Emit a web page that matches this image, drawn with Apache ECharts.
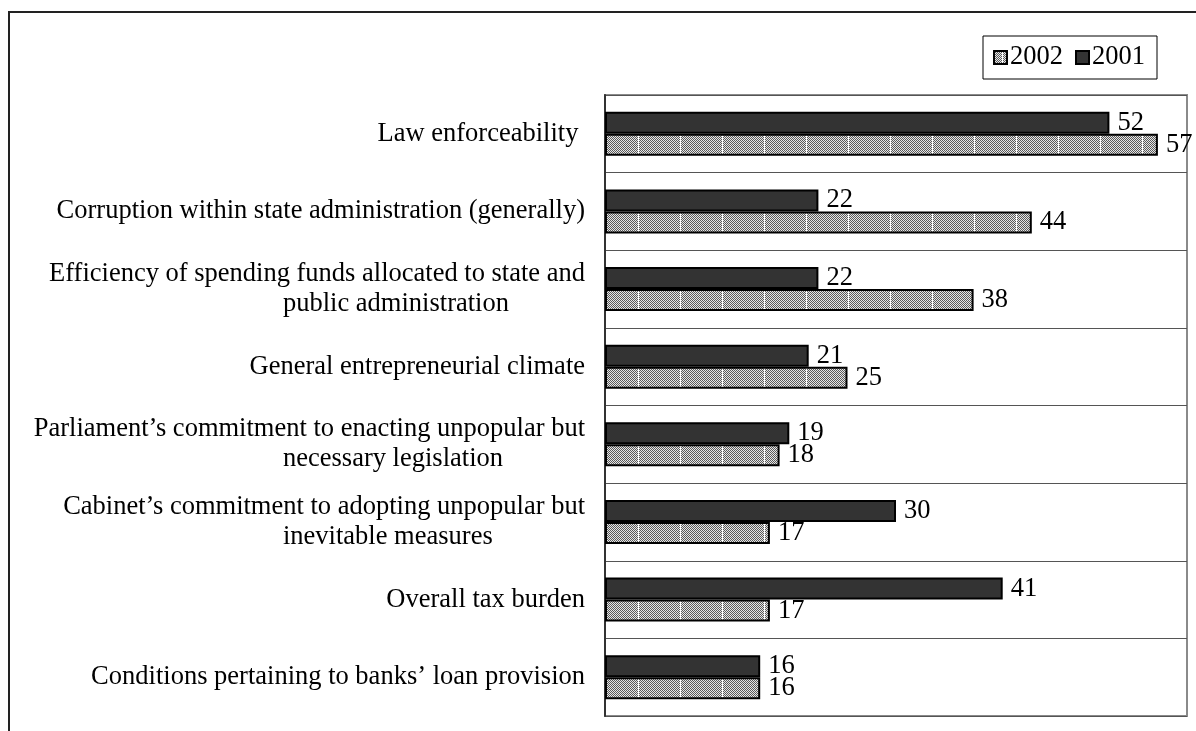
<!DOCTYPE html>
<html>
<head>
<meta charset="utf-8">
<title>Business environment barriers</title>
<script src="https://cdn.jsdelivr.net/npm/echarts@6/dist/echarts.min.js"></script>
<style>
  html, body { margin: 0; padding: 0; background: #ffffff; }
  #chart { width: 1196px; height: 731px; }
</style>
</head>
<body>
<div id="chart"></div>
<script>
// Categories, listed top to bottom
const categories = [
  'Law enforceability ',
  'Corruption within state administration (generally)',
  'Efficiency of spending funds allocated to state and\npublic administration',
  'General entrepreneurial climate',
  'Parliament\u2019s commitment to enacting unpopular but\nnecessary legislation',
  'Cabinet\u2019s commitment to adopting unpopular but\ninevitable measures',
  'Overall tax burden',
  'Conditions pertaining to banks\u2019 loan provision'
];
const values2001 = [52, 22, 22, 21, 19, 30, 41, 16];
const values2002 = [57, 44, 38, 25, 18, 17, 17, 16];
const legendOrder = ['2002', '2001'];

const FONT = '"Liberation Serif", "Times New Roman", serif';
const FS = 26.5;

const GRID_LEFT = 605;
const LABEL_MARGIN = 20;
const WRAP_LINE_X = 283;   // where continuation lines of wrapped labels begin

// Dotted grey fill with a thin white stripe, used for the 2002 bars
function makeHatch() {
  const w = 42, h = 4;
  const c = document.createElement('canvas');
  c.width = w; c.height = h;
  const ctx = c.getContext('2d');
  for (let y = 0; y < h; y++) {
    for (let x = 0; x < w; x++) {
      ctx.fillStyle = ((x + y) % 2 === 0) ? '#5a5a5a' : '#e6e6e6';
      ctx.fillRect(x, y, 1, 1);
    }
  }
  ctx.fillStyle = '#ffffff';
  ctx.fillRect(8, 0, 1, h);
  return c;
}
const hatch = { image: makeHatch(), repeat: 'repeat' };

// Text measurement for laying out wrapped category labels
const measureCtx = document.createElement('canvas').getContext('2d');
measureCtx.font = FS + 'px ' + FONT;
function textWidth(s) { return measureCtx.measureText(s).width; }

// Each wrapped label gets its own rich style so its second line starts at WRAP_LINE_X
const richStyles = {
  a: { fontFamily: FONT, fontSize: FS, lineHeight: 30, color: '#000' }
};
const labelRight = GRID_LEFT - LABEL_MARGIN;
categories.forEach(function (cat, i) {
  const parts = cat.split('\n');
  if (parts.length > 1) {
    const blockLeft = labelRight - textWidth(parts[0]);
    richStyles['b' + i] = {
      fontFamily: FONT, fontSize: FS, lineHeight: 30, color: '#000',
      align: 'left',
      padding: [0, 0, 0, Math.max(0, WRAP_LINE_X - blockLeft)]
    };
  }
});

function formatCategory(value, index) {
  const parts = value.split('\n');
  if (parts.length === 1) return '{a|' + value + '}';
  return '{a|' + parts[0] + '}\n{b' + index + '|' + parts[1] + '}';
}

const chart = echarts.init(document.getElementById('chart'), null, { renderer: 'canvas' });

const labelStyle = {
  show: true,
  position: 'right',
  distance: 8,
  color: '#000',
  fontFamily: FONT,
  fontSize: FS
};

chart.setOption({
  animation: false,
  backgroundColor: '#ffffff',
  graphic: [
    {
      type: 'rect',
      shape: { x: 9, y: 12, width: 1400, height: 1000 },
      style: { fill: 'none', stroke: '#222', lineWidth: 2 },
      silent: true
    }
  ],
  legend: {
    data: legendOrder,
    left: 983,
    top: 36,
    orient: 'horizontal',
    icon: 'rect',
    itemWidth: 13,
    itemHeight: 13,
    itemGap: 12,
    padding: [6, 12, 6, 10],
    borderColor: '#000',
    borderWidth: 1,
    textStyle: { fontFamily: FONT, fontSize: FS, lineHeight: 31, color: '#000', padding: [0, 0, 0, -2] }
  },
  grid: {
    left: GRID_LEFT,
    top: 95,
    width: 582,
    height: 621,
    show: true,
    borderColor: '#8a8a8a',
    borderWidth: 2,
    backgroundColor: 'transparent'
  },
  xAxis: {
    type: 'value',
    min: 0,
    max: 60,
    axisLine: { show: false },
    axisTick: { show: false },
    axisLabel: { show: false },
    splitLine: { show: false }
  },
  yAxis: {
    type: 'category',
    data: categories,
    inverse: true,
    axisLine: { show: true, lineStyle: { color: '#333', width: 2 } },
    axisTick: { show: false },
    splitLine: { show: true, lineStyle: { color: '#555', width: 1 } },
    axisLabel: {
      margin: LABEL_MARGIN,
      color: '#000',
      formatter: formatCategory,
      rich: richStyles
    }
  },
  series: [
    {
      name: '2001',
      type: 'bar',
      data: values2001,
      barWidth: 22,
      barGap: '0%',
      itemStyle: { color: '#333333', borderColor: '#000', borderWidth: 2 },
      label: labelStyle
    },
    {
      name: '2002',
      type: 'bar',
      data: values2002,
      barWidth: 22,
      barGap: '0%',
      itemStyle: { color: hatch, borderColor: '#000', borderWidth: 2 },
      label: labelStyle
    }
  ]
});
</script>
</body>
</html>
